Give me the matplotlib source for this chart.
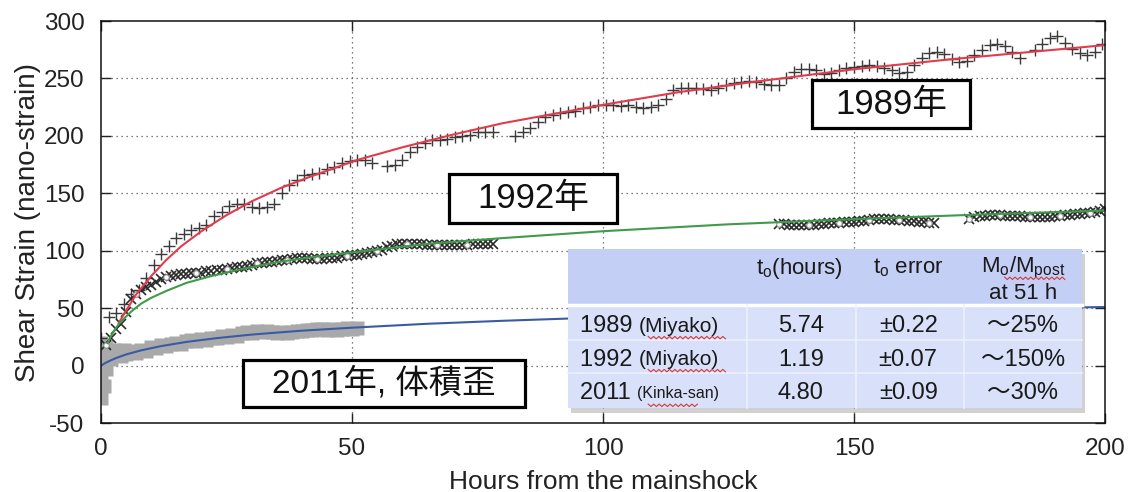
import numpy as np
import matplotlib
matplotlib.use("Agg")
import matplotlib.pyplot as plt
from matplotlib.patches import Rectangle

plt.rcParams['font.family'] = ['Liberation Sans', 'Noto Sans CJK JP']
plt.rcParams['mathtext.fontset'] = 'custom'
plt.rcParams['mathtext.rm'] = 'Liberation Sans'
plt.rcParams['mathtext.it'] = 'Liberation Sans'
plt.rcParams['axes.unicode_minus'] = False

nan = np.nan

# ---------------- data ----------------
# 1989 (Miyako) shear strain, sampled every 1.5 h
hours_1989 = np.arange(0, 200, 1.5)
strain_1989 = [
    24, 42, 46, 54, 62, 66, 76, 88, 97, 104,
    111, 115, 118, 120, 122, 130, 134, 139, 141, 141,
    138, 137, 138, 141, 150, 157, 162, 166, 167, 168,
    171, 173, 176, 178, 179, 179, 176, nan, 174, 175,
    179, 186, 190, 194, 196, 196, 197, 199, 200, 201,
    203, 203, 203, nan, nan, 200, 203, 207, 212, 216,
    218, 220, 221, 222, 224, 225, 227, 227, 227, 226,
    227, 225, 224, 225, 227, 232, 240, 242, 242, 242,
    241, 240, 242, 244, 246, 247, 248, 247, 245, 244,
    244, 250, 256, 258, 258, 257, 254, 255, 257, 259,
    260, 261, 262, 261, 259, 257, 255, 256, 262, 268,
    272, 273, 271, 267, 264, 265, 270, 275, 279, 280,
    278, 273, 268, nan, 275, 280, 285, 287, 281, 276,
    272, 270, 273, 280,
]

# 1992 (Miyako) shear strain, hourly, three recorded intervals
hours_1992_a = np.arange(1, 79)
strain_1992_a = [
    18, 24, 32, 36, 47, 58, 62, 66, 68, 70,
    73, 75, 77, 78, 79, 80, 80, 81, 81, 81,
    82, 82, 83, 83, 84, 85, 86, 86, 87, 88,
    89, 89, 90, 90, 91, 92, 92, 93, 94, 94,
    94, 93, 93, 93, 94, 94, 94, 95, 95, 96,
    96, 97, 98, 99, 100, 101, 103, 104, 106, 106,
    106, 106, 106, 106, 105, 105, 105, 105, 105, 105,
    105, 105, 105, 106, 106, 106, 106, 106,
]
hours_1992_b = np.arange(135, 167)
strain_1992_b = [
    123, 123, 122, 122, 122, 122, 122, 122, 123, 123,
    124, 124, 124, 125, 125, 125, 126, 126, 127, 128,
    128, 128, 128, 127, 127, 127, 126, 126, 125, 125,
    124, 124,
]
hours_1992_c = np.arange(173, 201)
strain_1992_c = [
    128, 129, 130, 130, 131, 131, 131, 130, 130, 130,
    130, 129, 129, 129, 129, 129, 129, 130, 130, 131,
    131, 132, 132, 133, 133, 134, 135, 136,
]

# 2011 (Kinka-san) volumetric strain
hours_2011 = [0, 0, 0, 0.5, 0.5, 1, 1, 1.5, 2, 2.5, 3, 3.5, 4, 4.5, 5,
              6, 7, 8, 9, 10, 11, 12, 13, 14, 15, 16, 17, 18, 19, 20,
              21, 22, 23, 24, 25, 26, 27, 28, 29, 30, 31, 32, 33, 34, 35,
              36, 37, 38, 39, 40, 41, 42, 43, 44, 45, 46, 47, 48, 49, 50, 51]
strain_2011 = [-28, 20, -10, -18, 8, -3, 16, 12, 6, 14, 9, 13, 8, 14, 10,
               13, 11, 14, 13, 16, 15, 18, 17, 19, 20, 19, 21, 22, 21, 23,
               22, 24, 24, 26, 25, 27, 26, 28, 29, 28, 30, 29, 30, 29, 28,
               29, 28, 29, 30, 30, 31, 31, 32, 32, 31, 32, 31, 32, 33, 32, 33]

# fitted curves
fit_hours_1989 = [3.5, 5, 7, 10, 13, 16, 20, 25, 30, 36, 42, 51, 60, 70, 80,
                  90, 100, 115, 130, 150, 170, 200]
fit_1989 = [37, 48, 62, 78, 92, 104, 117, 131, 143, 155, 165, 179, 190, 201,
            211, 219, 227, 238, 247, 258, 267, 279]
fit_hours_1992 = [1.3, 2, 3, 4, 6, 8, 10, 13, 17, 22, 28, 35, 43, 51, 65, 80,
                  100, 125, 150, 175, 200]
fit_1992 = [19.5, 26, 33, 38.5, 47, 54, 59, 65, 72, 78, 84, 90, 95, 99, 106,
            111, 117, 123, 127.5, 131.5, 135]
fit_hours_2011 = [0, 1, 2, 3, 5, 8, 12, 17, 23, 30, 40, 50, 65, 80, 100, 125,
                  150, 175, 200]
fit_2011 = [0, 2.6, 4.7, 6.6, 9.7, 13.3, 17, 20.6, 23.9, 27, 30.4, 33, 36.4,
            39, 42, 45, 47.2, 49.3, 51]

# table contents
table_header = [r'$\mathregular{t_o}$(hours)', r'$\mathregular{t_o}$ error']
table_years = ['1989', '1992', '2011']
table_sites = ['(Miyako)', '(Miyako)', '(Kinka-san)']
table_t0 = ['5.74', '1.19', '4.80']
table_err = ['±0.22', '±0.07', '±0.09']
table_ratio = ['～25%', '～150%', '～30%']

x_ticks = [0, 50, 100, 150, 200]
y_ticks = [-50, 0, 50, 100, 150, 200, 250, 300]

# ---------------- figure ----------------
fig = plt.figure(figsize=(11.38, 4.92), dpi=100)
ax = fig.add_axes([0.0888, 0.1402, 0.8822, 0.8171])
ax.set_xlim(0, 200)
ax.set_ylim(-50, 300)

ink = '#222222'

# grid
for gx in x_ticks[1:-1]:
    ax.axvline(gx, color='#555555', lw=0.9, ls=(0, (1, 3)), zorder=0.5)
for gy in y_ticks[1:-1]:
    ax.axhline(gy, color='#555555', lw=0.9, ls=(0, (1, 3)), zorder=0.5)

# observations
ax.plot(hours_2011, strain_2011, ls='none', marker='s', ms=10,
        color='#a9a9a9', mec='none', zorder=2)
ax.plot(hours_1989, strain_1989, ls='none', marker='+', ms=8.5, mew=1.0,
        color='#3a3a3a', zorder=2)
for hh, vv in ((hours_1992_a, strain_1992_a), (hours_1992_b, strain_1992_b),
               (hours_1992_c, strain_1992_c)):
    ax.plot(hh, vv, ls='none', marker='x', ms=7, mew=1.2, color='#2a2a2a',
            zorder=2)
    ax.plot(hh[::6], vv[::6], ls='none', marker='o', ms=4, mew=0.8,
            mfc='white', mec='#888888', zorder=2.1)

# fitted curves
ax.plot(fit_hours_1989, fit_1989, color='#e03c4c', lw=1.5, zorder=3)
ax.plot(fit_hours_1992, fit_1992, color='#3f9a4a', lw=1.5, zorder=3)
ax.plot(fit_hours_2011, fit_2011, color='#3b5aa5', lw=1.5, zorder=3)

# axes styling
for s in ax.spines.values():
    s.set_linewidth(1.1)
    s.set_color('#111111')
    s.set_zorder(6)
ax.set_xticks(x_ticks)
ax.set_yticks(y_ticks)
ax.tick_params(direction='in', length=7, width=1, top=True, right=True,
               labelsize=17.5, colors=ink)
ax.tick_params(axis='y', pad=12)
ax.tick_params(axis='x', pad=11)
ax.set_xlabel('Hours from the mainshock', fontsize=19, color=ink, labelpad=7)
ax.set_ylabel('Shear Strain (nano-strain)', fontsize=20, color=ink, labelpad=2)


# year labels in boxes
def boxed(x0, y0, x1, y1, text, size):
    ax.add_patch(Rectangle((x0, y0), x1 - x0, y1 - y0, transform=ax.transAxes,
                           facecolor='white', edgecolor='black', lw=2.3,
                           zorder=7))
    ax.text((x0 + x1) / 2, (y0 + y1) / 2, text, transform=ax.transAxes,
            ha='center', va='center', fontsize=size, color='#111111', zorder=8)


boxed(0.708, 0.734, 0.8655, 0.853, '1989年', 25)
boxed(0.3466, 0.4975, 0.514, 0.619, '1992年', 25)
boxed(0.1414, 0.0398, 0.4223, 0.1567, '2011年, 体積歪', 24)

# parameter table
tl, tr = 0.465, 0.977
t_top, t_hdr, t_r1, t_r2, t_bot = 0.4328, 0.2935, 0.2065, 0.1244, 0.0373
cols = [tl, 0.6434, 0.752, 0.8596, tr]
tz = 9
ax.add_patch(Rectangle((tl + 0.003, t_bot - 0.012), tr - tl, t_top - t_bot,
                       transform=ax.transAxes, facecolor='#9a9a9a', alpha=0.45,
                       edgecolor='none', zorder=tz - 0.2))
ax.add_patch(Rectangle((tl, t_hdr), tr - tl, t_top - t_hdr,
                       transform=ax.transAxes, facecolor='#c4cff6',
                       edgecolor='none', zorder=tz))
ax.add_patch(Rectangle((tl, t_bot), tr - tl, t_hdr - t_bot,
                       transform=ax.transAxes, facecolor='#d8e0fa',
                       edgecolor='none', zorder=tz))
ax.plot([tl, tr], [t_hdr, t_hdr], transform=ax.transAxes, color='white',
        lw=2.5, zorder=tz + 0.1)
for yy in (t_r1, t_r2):
    ax.plot([tl, tr], [yy, yy], transform=ax.transAxes, color='#eef2fd',
            lw=1.2, zorder=tz + 0.1)
for xx in cols[1:-1]:
    ax.plot([xx, xx], [t_bot, t_hdr], transform=ax.transAxes,
            color='#eef2fd', lw=1.2, zorder=tz + 0.1)

tk = dict(transform=ax.transAxes, color='#1a1a1a', zorder=tz + 0.5)
ax.text(0.696, 0.3856, table_header[0], ha='center', va='center',
        fontsize=16, **tk)
ax.text(0.804, 0.3856, table_header[1], ha='center', va='center',
        fontsize=16, **tk)
ax.text(0.918, 0.3856, r'$\mathregular{M_o/M_{post}}$', ha='center',
        va='center', fontsize=16, **tk)
ax.text(0.918, 0.3234, 'at 51 h', ha='center', va='center', fontsize=16, **tk)

row_y = [0.2413, 0.157, 0.0746]
site_size = [15, 15, 11.5]
for i, ry in enumerate(row_y):
    t = ax.text(0.477, ry, table_years[i] + ' ', ha='left', va='center',
                fontsize=17, **tk)
    ax.annotate(table_sites[i], xy=(1, 0.5), xycoords=t, ha='left',
                va='center', fontsize=site_size[i], color='#1a1a1a',
                zorder=tz + 0.5)
    ax.text(0.697, ry, table_t0[i], ha='center', va='center', fontsize=17, **tk)
    ax.text(0.804, ry, table_err[i], ha='center', va='center', fontsize=17, **tk)
    ax.text(0.918, ry, table_ratio[i], ha='center', va='center', fontsize=17,
            **tk)


# spell-check squiggles under some words
def squiggle(x0, x1, y):
    n = int((x1 - x0) / 0.0026)
    xs = np.linspace(x0, x1, n + 1)
    ys = y + np.where(np.arange(n + 1) % 2 == 0, 0.003, -0.003)
    ax.plot(xs, ys, transform=ax.transAxes, color='#d23a3a', lw=0.8,
            zorder=tz + 0.6)


squiggle(0.545, 0.622, 0.2124)
squiggle(0.545, 0.622, 0.1303)
squiggle(0.545, 0.594, 0.0440)
squiggle(0.900, 0.960, 0.3600)

fig.savefig('out.png', dpi=100)
